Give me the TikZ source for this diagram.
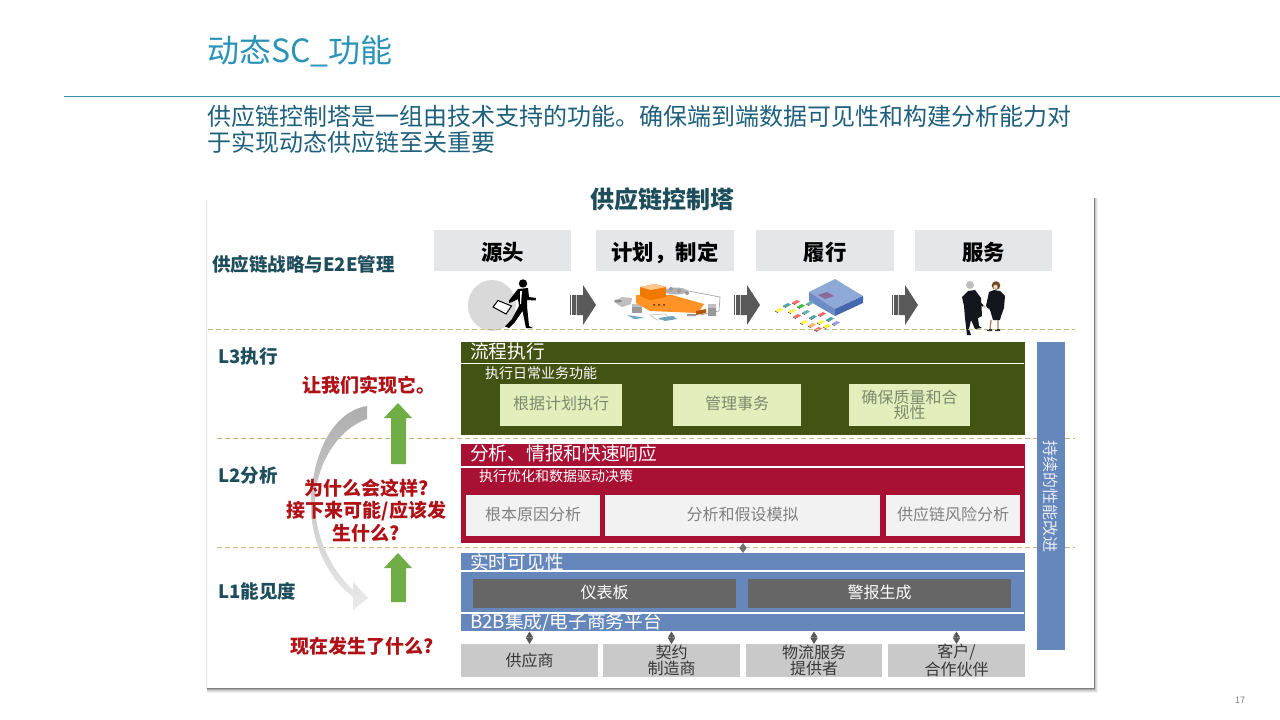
\documentclass[tikz,border=0pt]{standalone}
\usepackage{fontspec}
\setmainfont{Noto Sans CJK SC}
\usetikzlibrary{arrows.meta}
\definecolor{teal1}{HTML}{2A93B8}
\definecolor{teal2}{HTML}{1F617C}
\definecolor{teal3}{HTML}{1E4E5C}
\definecolor{ruleC}{HTML}{3A93A8}
\definecolor{hdrC}{HTML}{E4E6E8}
\definecolor{dashC}{HTML}{C4BB83}
\definecolor{greenD}{HTML}{435313}
\definecolor{greenL}{HTML}{E2EFBD}
\definecolor{greenT}{HTML}{7C8A6C}
\definecolor{redD}{HTML}{A81133}
\definecolor{blueM}{HTML}{6587BC}
\definecolor{grayBar}{HTML}{666666}
\definecolor{grayBox}{HTML}{C9C9C9}
\definecolor{redT}{HTML}{B01116}
\definecolor{upG}{HTML}{70AD47}
\definecolor{whTop}{HTML}{8FA9D6}
\definecolor{whLeft}{HTML}{6C8CC8}
\definecolor{whRight}{HTML}{4467B0}
\definecolor{whMark}{HTML}{8A6A9A}
\definecolor{suit}{HTML}{14161E}
\newcommand{\fsz}[2]{\fontsize{#1}{#2}\selectfont}
\tikzset{
  x=1pt,y=-1pt,
  box/.style={inner sep=0pt,outer sep=0pt,minimum width=0pt},
  hdr/.style={box,fill=hdrC,font=\fsz{21.4}{24}\bfseries,text=black,text height=23pt,text depth=3pt},
  lvl/.style={inner sep=0pt,anchor=west,font=\fsz{18.5}{22}\bfseries,text=teal3},
  band/.style={inner sep=0pt,anchor=west,font=\fsz{18.7}{22},text=white},
  sub/.style={inner sep=0pt,anchor=west,font=\fsz{14}{16},text=white},
  gbox/.style={box,fill=greenL,text=greenT,font=\fsz{16}{14},align=center},
  rbox/.style={box,fill=black!5,text=black!50,font=\fsz{16}{14},align=center},
  dbox/.style={box,fill=grayBar,text=white,font=\fsz{16}{14},align=center},
  sbox/.style={box,fill=grayBox,text=black!78,font=\fsz{16}{14},align=center},
  raised/.style={text height=12pt,text depth=2.8pt},
  ask/.style={inner sep=0pt,font=\fsz{19}{22.5}\bfseries,text=redT,align=center},
  lvlline/.style={draw=dashC,line width=0.8pt,dash pattern=on 5pt off 3pt},
  whiteline/.style={draw=white,line width=1.6pt},
  link/.style={draw=black!65,line width=0.8pt,{Triangle[length=6pt,width=7pt]}-{Triangle[length=6pt,width=7pt]}},
  linksmall/.style={draw=black!55,line width=0.8pt,{Triangle[length=5pt,width=7pt]}-{Triangle[length=5pt,width=7pt]}},
}
\newcommand{\boxat}[7]{% name, style, x1,y1,x2,y2, text
  \node[#2,minimum width={(#5)-(#3)},minimum height={(#6)-(#4)}] (#1) at ({((#3)+(#5))/2},{((#4)+(#6))/2}) {#7};}
\newcommand{\flowshape}[1]{% x position of tail
  \begin{scope}[shift={(#1,305)}]
    \fill[black!65] (6.5,-10) -- (13,-10) -- (13,-20) -- (26,0) -- (13,20) -- (13,10) -- (6.5,10) -- cycle;
    \foreach \s in {0,1.7,3.4,5.1} {\fill[black!65] (\s,-10) rectangle ++(1.15,20);}
  \end{scope}}
\newcommand{\car}[3]{% x,y,colour
  \begin{scope}[shift={(#1,#2)},scale=0.8]
    \fill[#3] (-5,1) -- (1,-2.5) -- (5,-0.5) -- (-1,3) -- cycle;
    \fill[black!60] (-5,1) -- (-1,3) -- (-1,4) -- (-5,2) -- cycle;
  \end{scope}}
\begin{document}
\begin{tikzpicture}
\useasboundingbox (0,0) rectangle (1280,720);
\fill[white] (0,0) rectangle (1280,720);

% Card with soft shadow
\fill[black,opacity=0.1] (205.8,200) rectangle (1095,689);
\foreach \d/\o in {5/0.05,4/0.07,3/0.1,2/0.14,1/0.18} {
  \fill[black,opacity=\o] (207,{198}) rectangle ({1094+\d*0.7},{688+\d*0.9});
}
\fill[white] (207,193) rectangle (1094,688);

% Heading
\node[inner sep=0pt,anchor=west,font=\fsz{32}{36},text=teal1] (title) at (207,51.5) {动态SC\_功能};
\draw[ruleC,line width=1pt] (64,96.7) -- (1280,96.7);
\node[inner sep=0pt,anchor=west,font=\fsz{24}{26},text=teal2] (line1) at (207,116) {供应链控制塔是一组由技术支持的功能。确保端到端数据可见性和构建分析能力对};
\node[inner sep=0pt,anchor=west,font=\fsz{24}{26},text=teal2] (line2) at (207,142) {于实现动态供应链至关重要};

\node[inner sep=0pt,font=\fsz{24}{28}\bfseries,text=teal3] (tower) at (662,199) {供应链控制塔};

% Stage headers
\boxat{h1}{hdr}{434}{230}{571}{271}{源头}
\boxat{h2}{hdr}{596}{230}{734}{271}{计划，制定}
\boxat{h3}{hdr}{756}{230}{894}{271}{履行}
\boxat{h4}{hdr}{915}{230}{1052}{271}{服务}

% Level labels
\node[lvl] (strat) at (212,264) {供应链战略与E2E管理};
\node[lvl] (l3) at (218,357) {L3执行};
\node[lvl] (l2) at (218,475) {L2分析};
\node[lvl] (l1) at (218,591) {L1能见度};

% Flow arrows
\flowshape{570}
\flowshape{734}
\flowshape{892}

% Person icon
\fill[black!15] (492,305.5) ellipse (24 and 25.5);
\fill[black] (523,283.5) circle (4.2);
\fill[black] (518,289) -- (528,288) -- (529,297) -- (536,298) -- (535.5,300.5) -- (527,300) -- (527,306) -- (529,326) -- (533,328) -- (526,328) -- (522.5,311) -- (515,322) -- (509,328) -- (505,326.5) -- (512,319) -- (519,306) -- (518,299) -- (512,302) -- (509,303) -- (509,300.5) -- cycle;
\fill[white] (520,291) -- (522,291) -- (521,304) -- (520,304) -- cycle;
\draw[black,line width=1pt,fill=white] (498,300.5) -- (511.5,306) -- (506,314) -- (493,307) -- cycle;

% Planning icon
\draw[black!35,line width=0.7pt] (678,289) -- (720,297) -- (719,311) -- (700,315);
\fill[black!25] (614,302) -- (622,297) -- (632,298) -- (631,304) -- (622,307) -- cycle;
\fill[black!45] (618,301) ellipse (4 and 1.5);
\fill[black!40] (632,306) rectangle (642,313);
\fill[black!25] (632,304) rectangle (642,307);
\fill[black!30] (676,291) ellipse (11 and 3.5);
\fill[black!40] (671,289) circle (2) (679,291) circle (2) (687,293) circle (2);
\fill[orange!85] (636,295) -- (672,295) -- (704,304) -- (698,313) -- (650,311) -- (636,303) -- cycle;
\fill[orange!95!black] (640,287) -- (655,284) -- (666,287) -- (666,297) -- (650,300) -- (640,296) -- cycle;
\fill[orange!45] (640,287) -- (655,284) -- (666,287) -- (651,290) -- cycle;
\fill[orange!50!black] (653,304) rectangle (655,305.5) (658,304) rectangle (660,305.5) (663,304) rectangle (665,305.5);
\fill[orange!70!black] (696,311) -- (706,309) -- (706,313) -- (696,315) -- cycle;
\fill[black!40] (687,314) rectangle (696,316) (708,306) rectangle (716,316);
\fill[black!25] (708,304) rectangle (716,308);
\fill[cyan!45!gray] (627,315) -- (640,317) -- (645,318) -- (634,319) -- cycle;
\draw[black!25,line width=0.6pt] (650,315) -- (665,314) -- (670,318) -- (657,320) -- cycle;
\fill[cyan!45!gray] (658,318) -- (673,316) -- (677,319) -- (665,321) -- cycle;

% Warehouse icon
\fill[whTop] (809,292) -- (835,279) -- (863,296) -- (835,309) -- cycle;
\fill[whRight] (835,309) -- (863,296) -- (863,303) -- (835,316) -- cycle;
\fill[whLeft] (809,292) -- (809,301) -- (835,316) -- (835,309) -- cycle;
\fill[whMark] (818,295) -- (827,292) -- (834,296) -- (825,299) -- cycle;
\foreach \x/\y/\c in {796/302/red!60,787/305/teal!70,779/310/yellow!70,810/303/teal!60,801/306/green!50!gray,792/311/yellow!70,797/316/red!60,806/312/teal!60,822/314/red!60,813/317/teal!70,804/322/yellow!70,830/319/teal!70,821/322/yellow!70,812/325/orange!60,836/323/blue!40,827/326/yellow!80,818/329/red!60} {
  \car{\x}{\y}{\c}
}

% People icon
\fill[black!25!white] (970,285) circle (4);
\fill[brown!60!black] (996,285.5) circle (4.3);
\fill[brown!30!white] (995.5,287) circle (2.2);
\fill[suit] (962,297) -- (968,291) -- (975,290) -- (981,298) -- (982,316) -- (978,318) -- (979,326) -- (982,328) -- (975,329) -- (971,320) -- (969,329) -- (971,335) -- (967,335) -- (965,318) -- (964,306) -- cycle;
\fill[suit] (989,292) -- (994,290) -- (1000,291) -- (1005,296) -- (1004,308) -- (1001,316) -- (1000,320) -- (993,320) -- (990,310) -- (986,306) -- cycle;
\draw[brown!50!gray,line width=1.3pt] (991,320) -- (990,330) (998,320) -- (998,330);
\fill[black!80] (987,329) rectangle (992,331) (995,329) rectangle (1000,331);
\draw[suit,line width=2pt] (976,300) -- (983,306);
\draw[suit,line width=2pt] (993,305) -- (987,307);
\fill[brown!40!white] (984.5,306.8) circle (1.5);

% Level separators
\coordinate (d0a) at (208,329.5); \coordinate (d0b) at (1075,329.5);
\coordinate (d1a) at (217,438); \coordinate (d1b) at (1075,438);
\coordinate (d2a) at (217,547); \coordinate (d2b) at (1075,547);
\draw[lvlline] (d0a) -- (d0b);
\draw[lvlline] (d1a) -- (d1b);
\draw[lvlline] (d2a) -- (d2b);

% Continuous improvement bar
\boxat{cont}{box,fill=blueM}{1037}{342}{1065}{650}{}

% L3 block
\boxat{l3b}{box,fill=greenD}{461}{342}{1025}{435}{}
\draw[whiteline] (461,363.5) -- (1024,363.5);
\begin{scope}
\clip (461,342) rectangle (1025,363);
\node[band] (l3t) at (470,351) {流程执行};
\end{scope}
\node[sub] (l3s) at (485,373) {执行日常业务功能};
\boxat{g1}{gbox,raised}{500}{384}{622}{426}{根据计划执行}
\boxat{g2}{gbox,raised}{673}{384}{801}{426}{管理事务}
\boxat{g3}{gbox}{849}{384}{970}{426}{确保质量和合\\规性}

% L2 block
\boxat{l2b}{box,fill=redD}{461}{444}{1025}{543}{}
\draw[whiteline] (461,466.7) -- (1024,466.7);
\node[band] (l2t) at (470,453) {分析、情报和快速响应};
\node[sub] (l2s) at (479,476) {执行优化和数据驱动决策};
\boxat{r1}{rbox,raised}{466}{495}{600}{536}{根本原因分析}
\boxat{r2}{rbox,raised}{605}{495}{880}{536}{分析和假设模拟}
\boxat{r3}{rbox,raised}{886}{495}{1020}{536}{供应链风险分析}

% L1 block
\boxat{l1b}{box,fill=blueM}{461}{553}{1025}{631}{}
\draw[whiteline] (461,571) -- (1024,571);
\draw[whiteline] (461,613) -- (1024,613);
\begin{scope}
\clip (461,553) rectangle (1025,570);
\node[band] (l1t) at (470,562) {实时可见性};
\end{scope}
\boxat{b1}{dbox,raised}{473}{579}{736}{608}{仪表板}
\boxat{b2}{dbox,raised}{748}{579}{1011}{608}{警报生成}
\begin{scope}
\clip (461,614) rectangle (1025,631);
\node[band] (b2b) at (470,622) {B2B集成/电子商务平台};
\end{scope}
\coordinate (b2bbottom) at (461,631.5);

% Partners
\boxat{s1}{sbox}{461}{644}{598}{677}{供应商}
\boxat{s2}{sbox}{603}{644}{740}{677}{契约\\制造商}
\boxat{s3}{sbox}{746}{644}{882}{677}{物流服务\\提供者}
\boxat{s4}{sbox}{888}{644}{1025}{677}{客户/\\合作伙伴}

% Links
\draw[link] (s1.north) -- (s1.north |- b2bbottom);
\draw[link] (s2.north) -- (s2.north |- b2bbottom);
\draw[link] (s3.north) -- (s3.north |- b2bbottom);
\draw[link] (s4.north) -- (s4.north |- b2bbottom);
\coordinate (l1top) at (743,553);
\draw[linksmall] (l1top) -- (l1top |- l2b.south);

% Vertical label
\node[inner sep=0pt,rotate=-90,font=\fsz{16}{18},text=white!85!blueM] (contl) at (1051,496) {持续的性能改进};

% Crescent arrow
\shade[top color=black!32,bottom color=black!8,draw=none]
  (367,406) .. controls (330,412) and (311,460) .. (311,505)
  .. controls (311,545) and (330,580) .. (353,597)
  -- (353,610) -- (368,598) -- (353,582) -- (353,590)
  .. controls (332,570) and (316,540) .. (315,505)
  .. controls (314,470) and (335,430) .. (367,419) -- cycle;

% Up arrows
\fill[upG] (398,403) -- (412,418) -- (406,418) -- (406,464) -- (391,464) -- (391,418) -- (384,418) -- cycle;
\fill[upG] (398,553) -- (412,568) -- (406,568) -- (406,602) -- (391,602) -- (391,568) -- (384,568) -- cycle;

% Questions
\node[ask] (q3) at (368.5,385) {让我们实现它。};
\node[ask] (q2) at (366.5,510.5) {为什么会这样?\\接下来可能/应该发\\生什么?};
\node[ask] (q1) at (362.5,646) {现在发生了什么?};

% Page number
\node[inner sep=0pt,font=\fsz{9}{10},text=black!50] (pg) at (1240,700) {17};
\end{tikzpicture}
\end{document}
